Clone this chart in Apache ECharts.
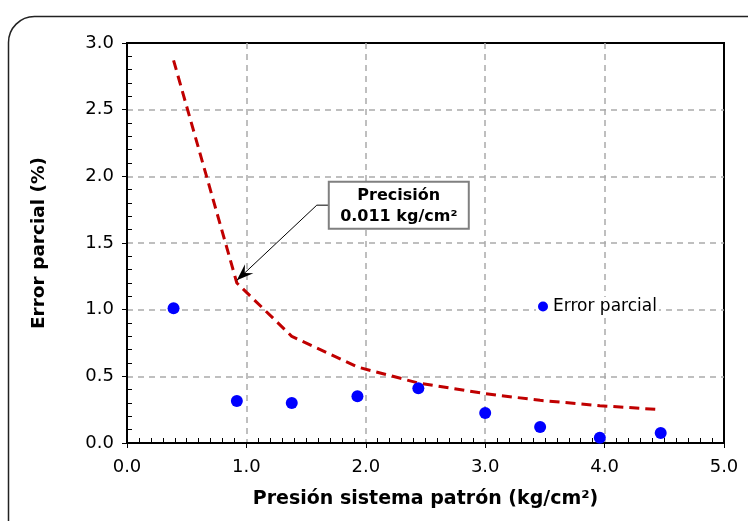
<!DOCTYPE html>
<html>
<head>
<meta charset="utf-8">
<script src="https://cdn.jsdelivr.net/npm/echarts@6/dist/echarts.min.js"></script>
<style>
  html, body { margin: 0; padding: 0; background: #fff; }
  #chart { width: 748px; height: 521px; }
</style>
</head>
<body>
<div id="chart"></div>
<script>
// presión sistema patrón (kg/cm2)
const presion = [0.39, 0.92, 1.38, 1.93, 2.44, 3.00, 3.46, 3.96, 4.47];
// error parcial medido (%)
const errorParcial = [1.01, 0.315, 0.30, 0.35, 0.41, 0.225, 0.12, 0.04, 0.075];
// curva de precisión (%)
const precisionCurva = [2.87, 1.20, 0.80, 0.57, 0.45, 0.37, 0.32, 0.28, 0.25];
const xTicks = ['0.0', '1.0', '2.0', '3.0', '4.0', '5.0'];

const font = 'DejaVu Sans, Verdana, sans-serif';
const chart = echarts.init(document.getElementById('chart'));

const option = {
  animation: false,
  textStyle: { fontFamily: font },
  grid: {
    left: 127, right: 24, top: 43, bottom: 78,
    show: true, borderColor: '#000', borderWidth: 2
  },
  legend: {
    data: [{ name: 'Error parcial', icon: 'circle' }],
    left: 536, top: 297,
    itemWidth: 10, itemHeight: 10, itemGap: 3,
    backgroundColor: '#fff', padding: [1, 2],
    textStyle: { fontSize: 17, color: '#000', fontFamily: font }
  },
  xAxis: {
    type: 'value', min: 0, max: 5, interval: 1,
    name: 'Presión sistema patrón (kg/cm²)',
    nameLocation: 'middle', nameGap: 47,
    nameTextStyle: { fontSize: 19, fontWeight: 'bold', color: '#000' },
    axisLine: { lineStyle: { color: '#000', width: 2 } },
    axisTick: { length: 5, lineStyle: { color: '#000' } },
    minorTick: { show: true, splitNumber: 10, length: -5, lineStyle: { color: '#000' } },
    axisLabel: { fontSize: 18, color: '#000', margin: 15, formatter: v => xTicks[Math.round(v)] },
    splitLine: { showMinLine: false, showMaxLine: false, lineStyle: { color: '#aaa', type: [6, 5], width: 1.5 } }
  },
  yAxis: {
    type: 'value', min: 0, max: 3, interval: 0.5,
    name: 'Error parcial (%)',
    nameLocation: 'middle', nameGap: 78,
    nameTextStyle: { fontSize: 18.5, fontWeight: 'bold', color: '#000' },
    axisLine: { show: true, lineStyle: { color: '#000', width: 2 } },
    axisTick: { show: true, length: 5, lineStyle: { color: '#000' } },
    minorTick: { show: true, splitNumber: 5, length: -5, lineStyle: { color: '#000' } },
    axisLabel: { fontSize: 18, color: '#000', margin: 13, formatter: v => v.toFixed(1) },
    splitLine: { showMinLine: false, showMaxLine: false, lineStyle: { color: '#aaa', type: [6, 5], width: 1.5 } }
  },
  series: [
    {
      name: 'Precisión',
      type: 'line',
      data: presion.map((x, i) => [x, precisionCurva[i]]),
      showSymbol: false,
      lineStyle: { color: '#c00000', width: 3, type: [10, 6] },
      z: 2
    },
    {
      name: 'Error parcial',
      type: 'scatter',
      data: presion.map((x, i) => [x, errorParcial[i]]),
      symbolSize: 12,
      itemStyle: { color: '#0000ff', opacity: 1 },
      z: 3
    }
  ]
};
chart.setOption(option);

// anotación con flecha
const tip = chart.convertToPixel({ gridIndex: 0 }, [0.92, 1.22]);
const box = chart.convertToPixel({ gridIndex: 0 }, [1.69, 1.96]);
const bw = 140, bh = 47;
const elbow = [box[0] - 12, box[1] + bh / 2];
const ang = Math.atan2(tip[1] - elbow[1], tip[0] - elbow[0]);
const ah = 18, aw = 0.35;
chart.setOption({
  graphic: [
    {
      type: 'rect', left: 6, top: 14, silent: true,
      shape: { width: 770, height: 540, r: 26 },
      style: { fill: 'none', stroke: '#222', lineWidth: 1.5 }, z: -10
    },
    {
      type: 'polyline',
      shape: { points: [[box[0], elbow[1]], elbow, tip] },
      style: { stroke: '#000', lineWidth: 1, fill: 'none' }, z: 50
    },
    {
      type: 'polygon',
      shape: {
        points: [
          tip,
          [tip[0] - ah * Math.cos(ang - aw), tip[1] - ah * Math.sin(ang - aw)],
          [tip[0] - ah * 0.6 * Math.cos(ang), tip[1] - ah * 0.6 * Math.sin(ang)],
          [tip[0] - ah * Math.cos(ang + aw), tip[1] - ah * Math.sin(ang + aw)]
        ]
      },
      style: { fill: '#000' }, z: 50
    },
    {
      type: 'rect', x: box[0], y: box[1],
      shape: { width: bw, height: bh },
      style: { fill: '#fff', stroke: '#808080', lineWidth: 2 }, z: 50
    },
    {
      type: 'text', x: box[0] + bw / 2, y: box[1] + bh / 2 + 1,
      style: {
        text: 'Precisión\n0.011 kg/cm²',
        fontFamily: font, fontSize: 16, fontWeight: 'bold', fill: '#000',
        align: 'center', verticalAlign: 'middle', lineHeight: 21
      }, z: 51
    }
  ]
});
</script>
</body>
</html>
